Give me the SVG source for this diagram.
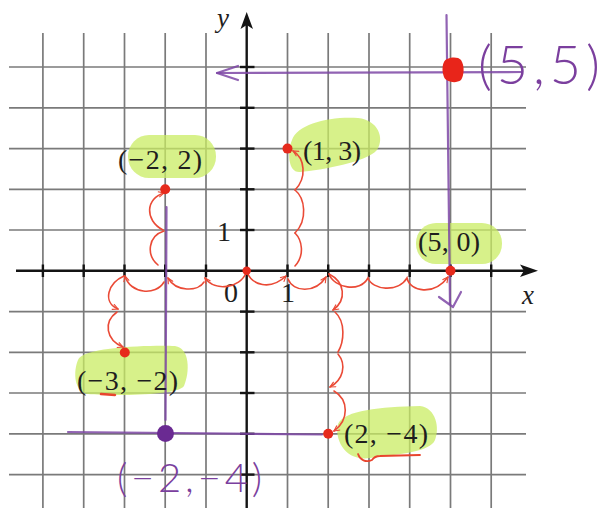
<svg xmlns="http://www.w3.org/2000/svg" width="602" height="517" viewBox="0 0 602 517">
<defs>
<style>
.grid line{stroke:#7a7a7a;stroke-width:1.7}
.axis{stroke:#141414;stroke-width:2.4;fill:none}
.tick{stroke:#141414;stroke-width:2.4}
.lbl{font-family:"Liberation Serif",serif;font-size:28px;fill:#1e1e1e}
.ax{font-family:"Liberation Serif",serif;font-size:27px;font-style:italic;fill:#1e1e1e}
.hl{fill:#c9ec63;fill-opacity:0.75}
.dot{fill:#e62a1c}
.hop{fill:none;stroke:#ea4a36;stroke-width:1.6;stroke-linecap:round}
.pur{fill:none;stroke:#7e48a6;stroke-width:2.2;stroke-opacity:0.85;stroke-linecap:round;stroke-linejoin:round}
.ptxt{font-family:"Lato","Liberation Sans",sans-serif;font-weight:300;fill:#7b3f9e}
</style>
<marker id="ah" viewBox="0 0 10 10" refX="9" refY="5" markerWidth="7" markerHeight="7" orient="auto" markerUnits="userSpaceOnUse">
<path d="M1,1 L9,5 L1,9" fill="none" stroke="#ea4a36" stroke-width="1.6"/>
</marker>
</defs>
<rect width="602" height="517" fill="#ffffff"/>
<g id="grid" class="grid">
<line x1="42.9" y1="33" x2="42.9" y2="508"/>
<line x1="83.7" y1="33" x2="83.7" y2="508"/>
<line x1="124.5" y1="33" x2="124.5" y2="508"/>
<line x1="165.2" y1="33" x2="165.2" y2="508"/>
<line x1="206" y1="33" x2="206" y2="508"/>
<line x1="287.5" y1="33" x2="287.5" y2="508"/>
<line x1="328.2" y1="33" x2="328.2" y2="508"/>
<line x1="369" y1="33" x2="369" y2="508"/>
<line x1="409.7" y1="33" x2="409.7" y2="508"/>
<line x1="450.5" y1="33" x2="450.5" y2="508"/>
<line x1="491.2" y1="33" x2="491.2" y2="508"/>
<line x1="9" y1="67" x2="526" y2="67"/>
<line x1="9" y1="107.8" x2="526" y2="107.8"/>
<line x1="9" y1="148.6" x2="526" y2="148.6"/>
<line x1="9" y1="189.3" x2="526" y2="189.3"/>
<line x1="9" y1="230" x2="526" y2="230"/>
<line x1="9" y1="311.6" x2="526" y2="311.6"/>
<line x1="9" y1="352.3" x2="526" y2="352.3"/>
<line x1="9" y1="393" x2="526" y2="393"/>
<line x1="9" y1="433.8" x2="526" y2="433.8"/>
<line x1="9" y1="474.6" x2="526" y2="474.6"/>
</g>
<g id="highlights">
<rect class="hl" x="128" y="135" width="88" height="43" rx="21"/>
<path class="hl" d="M292,140 C297,124 330,116 358,118 C378,120 385,138 377,150 C367,162 322,170 300,172 C288,173 287,152 292,140 Z"/>
<rect class="hl" x="416" y="223" width="86" height="41" rx="20"/>
<path class="hl" d="M78,360 C82,347 150,345 175,346 C190,348 190,372 184,386 C178,396 110,396 88,394 C74,392 73,372 78,360 Z"/>
<path class="hl" d="M338,424 C345,410 380,407 420,406 C436,408 440,428 435,440 C430,452 400,454 370,458 C346,462 334,440 338,424 Z"/>
</g>
<g id="axes">
<line class="axis" x1="16" y1="270.8" x2="528" y2="270.8"/>
<line class="axis" x1="246.7" y1="508" x2="246.7" y2="22"/>
<path d="M538,270.8 L520,264.5 L524,270.8 L520,277 Z" fill="#141414"/>
<path d="M246.7,12 L240.5,29 L246.7,25 L253,29 Z" fill="#141414"/>
<g class="tick">
<line x1="42.9" y1="264.5" x2="42.9" y2="277"/>
<line x1="83.7" y1="264.5" x2="83.7" y2="277"/>
<line x1="124.5" y1="264.5" x2="124.5" y2="277"/>
<line x1="165.2" y1="264.5" x2="165.2" y2="277"/>
<line x1="206" y1="264.5" x2="206" y2="277"/>
<line x1="287.5" y1="264.5" x2="287.5" y2="277"/>
<line x1="328.2" y1="264.5" x2="328.2" y2="277"/>
<line x1="369" y1="264.5" x2="369" y2="277"/>
<line x1="409.7" y1="264.5" x2="409.7" y2="277"/>
<line x1="450.5" y1="264.5" x2="450.5" y2="277"/>
<line x1="491.2" y1="264.5" x2="491.2" y2="277"/>
<line x1="240" y1="67" x2="254.5" y2="67"/>
<line x1="240" y1="107.8" x2="254.5" y2="107.8"/>
<line x1="240" y1="148.6" x2="254.5" y2="148.6"/>
<line x1="240" y1="189.3" x2="254.5" y2="189.3"/>
<line x1="240" y1="230" x2="254.5" y2="230"/>
<line x1="240" y1="311.6" x2="254.5" y2="311.6"/>
<line x1="240" y1="352.3" x2="254.5" y2="352.3"/>
<line x1="240" y1="393" x2="254.5" y2="393"/>
<line x1="240" y1="433.8" x2="254.5" y2="433.8"/>
<line x1="240" y1="474.6" x2="254.5" y2="474.6"/>
</g>
<text class="ax" x="217" y="27">y</text>
<text class="ax" x="522" y="304">x</text>
<text class="lbl" x="224" y="302">0</text>
<text class="lbl" x="281" y="302">1</text>
<text class="lbl" x="217" y="241">1</text>
</g>
<g id="purple-guides">
<path class="pur" d="M217,73 L522,72"/>
<path class="pur" d="M238,66 L217,73 L238,80"/>
<path class="pur" d="M446.5,15 L450,304"/>
<path class="pur" d="M439,297 L453,307 L461,292"/>
<path class="pur" d="M166.5,207 L165.5,420"/>
<path class="pur" d="M68,432 L322,434.5"/>
</g>
<g id="connectors">
<path class="hop" marker-end="url(#ah)" d="M247,272 C252,285 270,291 286,276"/>
<path class="hop" marker-end="url(#ah)" d="M288,279 C293,292 315,294 326,277"/>
<path class="hop" marker-end="url(#ah)" d="M329,274 C334,288 360,293 368,278 C372,290 398,293 407,278 C410,292 434,296 448,277"/>
<path class="hop" marker-end="url(#ah)" d="M246,273 C240,288 215,292 205,278"/>
<path class="hop" marker-end="url(#ah)" d="M204,282 C198,292 176,292 168,278"/>
<path class="hop" marker-end="url(#ah)" d="M164,282 C156,296 130,294 125,276"/>
<path class="hop" marker-end="url(#ah)" d="M124,276 C108,283 102,302 118,309"/>
<path class="hop" marker-end="url(#ah)" d="M117,312 C103,322 106,340 123,347"/>
<path class="hop" d="M158,265 C146,255 148,236 164,231"/>
<path class="hop" marker-end="url(#ah)" d="M163,230 C144,220 146,198 164,193"/>
<path class="hop" d="M295,266 C305,255 302,240 295,233"/>
<path class="hop" d="M295,233 C308,220 305,198 295,190"/>
<path class="hop" marker-end="url(#ah)" d="M295,190 C307,178 305,158 293,151"/>
<path class="hop" marker-end="url(#ah)" d="M329,274 C345,282 347,300 333,310"/>
<path class="hop" d="M335,312 C346,322 344,342 338,352"/>
<path class="hop" marker-end="url(#ah)" d="M338,354 C347,365 343,380 330,387"/>
<path class="hop" marker-end="url(#ah)" d="M334,391 C349,400 349,420 334,431"/>
<path d="M101,394 L115,395" fill="none" stroke="#e8452e" stroke-width="2.5" stroke-linecap="round"/>
<path d="M358,454 C360,460 366,463 372,460 C374,457 376,456 380,456 L420,455" fill="none" stroke="#e8452e" stroke-width="1.8" stroke-linecap="round"/>
</g>
<g id="pt-m2-2">
<circle class="dot" cx="165.2" cy="189.3" r="5"/>
<text class="lbl" x="118" y="169" textLength="84" lengthAdjust="spacing">(−2, 2)</text>
</g>
<g id="pt-1-3">
<circle class="dot" cx="287.5" cy="148.6" r="5"/>
<text class="lbl" x="303" y="160" textLength="58" lengthAdjust="spacing">(1, 3)</text>
</g>
<g id="pt-5-0">
<circle class="dot" cx="450.5" cy="270.8" r="5"/>
<text class="lbl" x="418" y="251" textLength="62" lengthAdjust="spacing">(5, 0)</text>
</g>
<g id="pt-0-0">
<circle class="dot" cx="246.7" cy="270.8" r="4.2"/>
</g>
<g id="pt-m3-m2">
<circle class="dot" cx="124.8" cy="352.5" r="5"/>
<text class="lbl" x="77" y="390" textLength="101" lengthAdjust="spacing">(−3, −2)</text>
</g>
<g id="pt-2-m4">
<circle class="dot" cx="328.2" cy="433.8" r="5"/>
<text class="lbl" x="344" y="443" textLength="84" lengthAdjust="spacing">(2, −4)</text>
</g>
<g id="pt-5-5">
<path d="M444,62 C446,57 458,56 461,60 C465,66 464,76 461,80 C456,84 446,82 444,77 C442,72 442,66 444,62 Z" fill="#e8251a"/>
<text class="ptxt" x="478" y="84" font-size="54" textLength="122" lengthAdjust="spacing">(5,5)</text>
</g>
<g id="pt-m2-m4">
<circle cx="165.5" cy="433.5" r="8.5" fill="#6a2a92"/>
<text class="ptxt" x="117" y="492" font-size="40" textLength="145" lengthAdjust="spacing">(−2,−4)</text>
</g>
</svg>
